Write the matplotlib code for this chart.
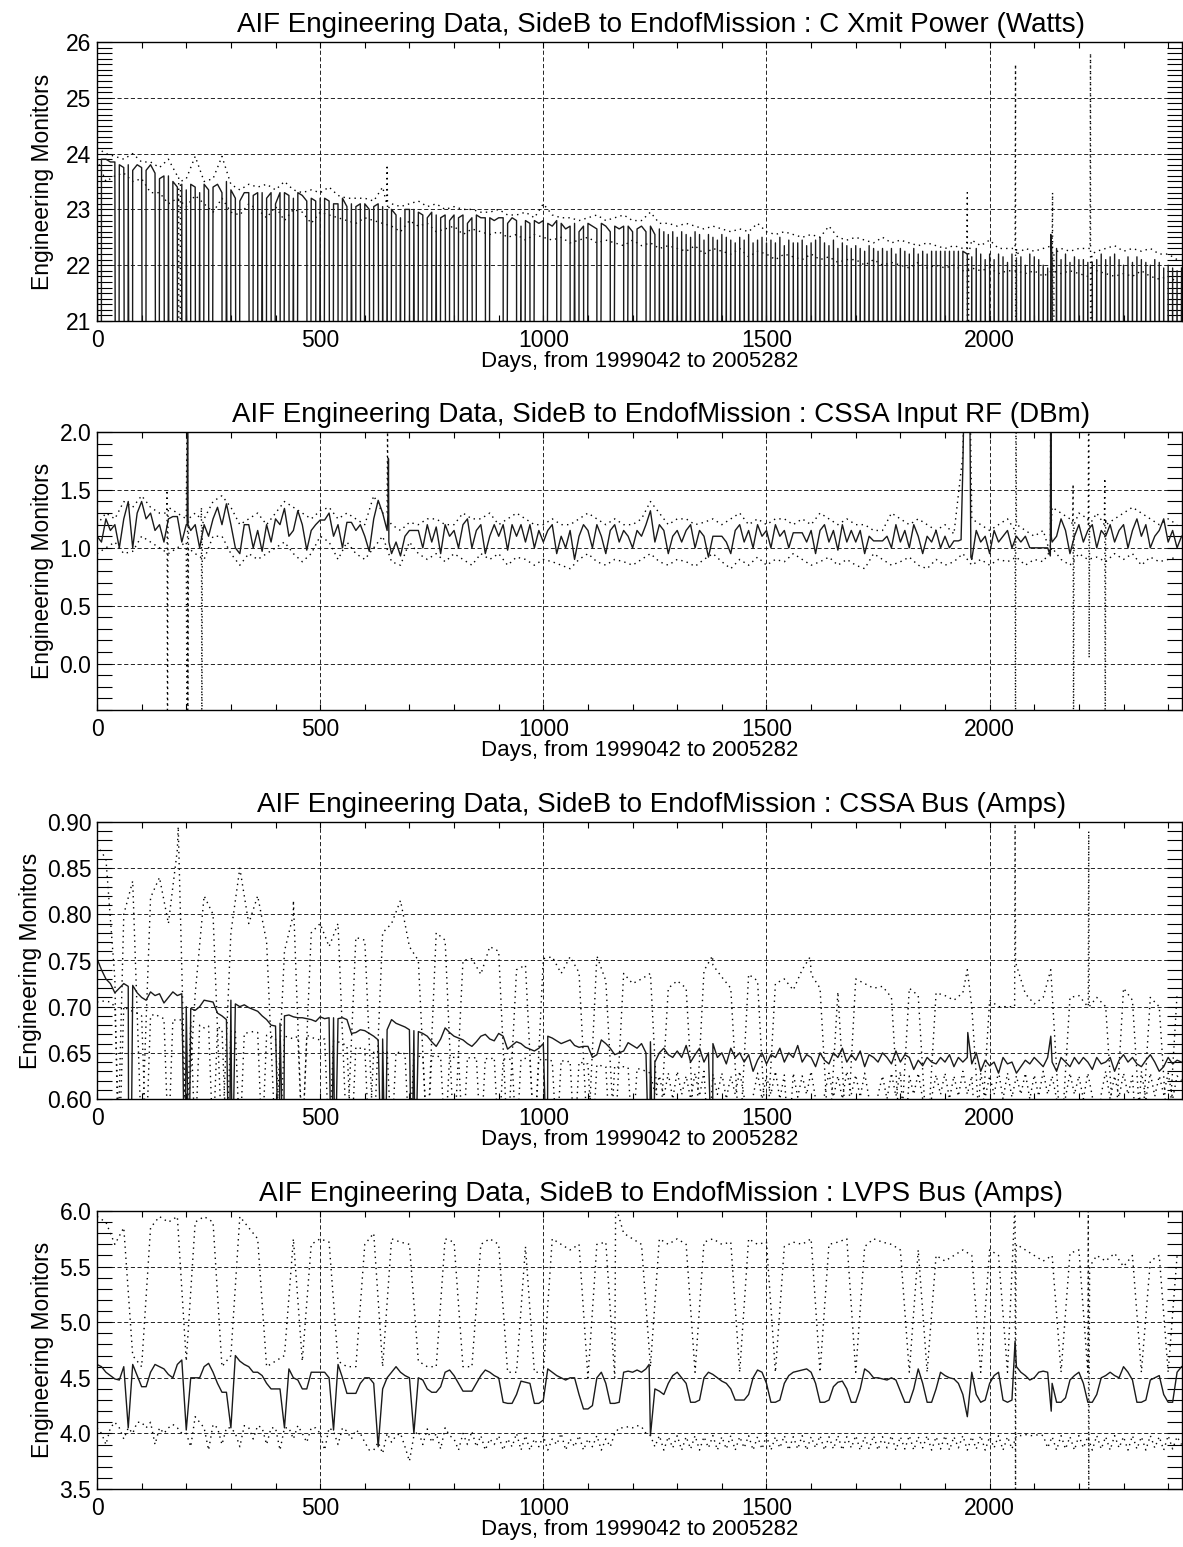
import numpy as np
import matplotlib
matplotlib.use("Agg")
import matplotlib.pyplot as plt
from matplotlib.ticker import MultipleLocator, FormatStrFormatter

plt.rcParams['font.family'] = ['Liberation Sans', 'DejaVu Sans']

TITLE_BASE = "AIF Engineering Data, SideB to EndofMission : "
XLABEL = "Days, from 1999042 to 2005282"
YLABEL = "Engineering Monitors"

# ---------------------------------------------------------------
# Panel 1 : C Xmit Power (Watts)
# mean sampled every 10 days, max/min every 20 days
# ---------------------------------------------------------------
p1_mean = [
    24.05, 23.9, 23.9, 23.85, 23.85, 23.8, 23.75, 23.8, 23.7, 23.8,
    23.75, 23.7, 23.8, 23.65, 23.55, 23.6, 23.6, 23.5, 23.4, 23.45,
    23.35, 23.45, 23.4, 23.3, 23.45, 23.35, 23.4, 23.45, 23.3, 23.5,
    23.35, 23.2, 23.15, 23.3, 23.3, 23.25, 23.3, 23.3, 23.2, 23.3,
    23.1, 23.3, 23.3, 23.25, 23.2, 23.3, 23.25, 23.15, 23.2, 23.15,
    23.2, 23.2, 23.15, 23.1, 23.1, 23.2, 23.05, 23.1, 23.05, 23.1,
    23.1, 23.0, 23.05, 23.1, 23.05, 23.0, 23.0, 22.9, 22.85, 23.0,
    23.0, 23.0, 22.95, 22.9, 22.85, 22.95, 22.9, 22.85, 22.9, 22.8,
    22.9, 22.85, 22.9, 22.75, 22.85, 22.9, 22.85, 22.85, 22.85, 22.8,
    22.85, 22.85, 22.75, 22.85, 22.8, 22.7, 22.8, 22.75, 22.8, 22.75,
    22.8, 22.75, 22.7, 22.8, 22.75, 22.65, 22.7, 22.75, 22.6, 22.7,
    22.75, 22.7, 22.65, 22.75, 22.7, 22.6, 22.7, 22.65, 22.7, 22.7,
    22.6, 22.65, 22.7, 22.6, 22.7, 22.55, 22.65, 22.6, 22.55, 22.6,
    22.5, 22.6, 22.55, 22.5, 22.6, 22.55, 22.45, 22.55, 22.5, 22.45,
    22.55, 22.5, 22.45, 22.4, 22.5, 22.45, 22.55, 22.4, 22.45, 22.5,
    22.4, 22.45, 22.4, 22.5, 22.35, 22.45, 22.4, 22.4, 22.45, 22.35,
    22.4, 22.45, 22.5, 22.4, 22.35, 22.45, 22.3, 22.4, 22.35, 22.3,
    22.35, 22.3, 22.25, 22.35, 22.3, 22.25, 22.3, 22.25, 22.3, 22.2,
    22.3, 22.25, 22.2, 22.3, 22.2, 22.25, 22.2, 22.25, 22.25, 22.25,
    22.25, 22.25, 22.25, 22.25, 22.25, 22.2, 22.15, 22.3, 22.2, 22.1,
    22.2, 22.1, 22.2, 22.15, 22.05, 22.2, 22.1, 22.15, 22.0, 22.2,
    22.15, 22.1, 22.0, 21.95, 22.1, 22.3, 22.1, 22.2, 22.05, 22.15,
    22.1, 22.1, 22.05, 22.05, 22.1, 22.2, 22.1, 22.15, 22.2, 22.1,
    22.0, 22.15, 22.05, 22.15, 22.1, 22.05, 22.0, 22.1, 22.05, 21.95,
    22.0, 21.95, 21.9, 21.95,
]
# days where the telemetry drops out (value goes to zero)
p1_dropout_days = [
    9, 46, 67, 78, 108, 137, 156, 167, 181, 184, 187, 192, 194, 196, 209,
    224, 233, 253, 281, 285, 298, 317, 347, 362, 377, 392, 414, 433, 444,
    474, 492, 504, 526, 541, 564, 579, 594, 616, 638, 646, 653, 672, 683,
    702, 717, 732, 750, 765, 788, 806, 825, 848, 874, 911, 941, 952, 971,
    1001, 1031, 1061, 1079, 1094, 1120, 1150, 1180, 1202, 1232, 1251,
    1257, 1266, 1276, 1284, 1293, 1303, 1312, 1321, 1331, 1339, 1348, 1357,
    1367, 1375, 1384, 1394, 1403, 1412, 1421, 1430, 1439, 1448, 1457, 1467,
    1476, 1485, 1494, 1503, 1513, 1521, 1531, 1541, 1549, 1558, 1567, 1577,
    1586, 1595, 1603, 1613, 1622, 1631, 1640, 1649, 1659, 1667, 1676, 1686,
    1695, 1704, 1713, 1722, 1731, 1741, 1749, 1758, 1767, 1777, 1786, 1795,
    1803, 1813, 1822, 1831, 1840, 1849, 1858, 1867, 1876, 1886, 1895, 1904,
    1913, 1922, 1931, 1953, 1962, 1971, 1981, 1989, 1998, 2007, 2016, 2025,
    2034, 2043, 2052, 2063, 2071, 2081, 2089, 2098, 2107, 2116, 2125, 2134,
    2143, 2152, 2161, 2171, 2179, 2188, 2197, 2206, 2215, 2225, 2233, 2243,
    2251, 2261, 2269, 2278, 2287, 2297, 2305, 2315, 2323, 2333, 2341, 2351,
    2359, 2369, 2377, 2387, 2395, 2405, 2413, 2422,
]
p1_spike_days = [2137]
p1_spike_vals = [22.55]

p1_max = [
    24.1, 24.0, 23.95, 23.9, 24.0, 23.85, 23.85, 23.75, 23.9, 23.6,
    23.55, 23.95, 23.5, 23.55, 23.95, 23.45, 23.35, 23.45, 23.4, 23.45,
    23.35, 23.5, 23.35, 23.3, 23.35, 23.3, 23.4, 23.25, 23.2, 23.2,
    23.2, 23.15, 23.4, 23.1, 23.05, 23.1, 23.15, 23.05, 23.1, 23.0,
    23.05, 23.0, 23.0, 22.95, 22.95, 23.0, 22.9, 22.9, 22.95, 22.85,
    23.1, 22.9, 22.85, 22.85, 22.8, 22.85, 22.9, 22.8, 22.85, 22.9,
    22.8, 22.8, 22.95, 22.75, 22.75, 22.7, 22.75, 22.7, 22.65, 22.7,
    22.65, 22.6, 22.65, 22.6, 22.75, 22.6, 22.55, 22.6, 22.55, 22.5,
    22.55, 22.5, 22.7, 22.5, 22.45, 22.5, 22.45, 22.4, 22.5, 22.4,
    22.45, 22.4, 22.35, 22.4, 22.35, 22.3, 22.35, 22.3, 22.45, 22.35,
    22.45, 22.3, 22.3, 22.3, 22.3, 22.25, 22.3, 22.35, 22.3, 22.25,
    22.3, 22.3, 22.25, 22.3, 22.35, 22.25, 22.3, 22.25, 22.3, 22.2,
    22.2, 22.1,
]
p1_max_extra_days = [183, 185, 187, 649, 650, 651, 1949, 1950, 1951, 1953,
                     2057, 2058, 2059, 2061, 2140, 2141, 2142, 2144,
                     2225, 2226, 2227, 2229]
p1_max_extra_vals = [23.6, 0.0, 23.5, 23.1, 23.8, 23.0, 22.3, 23.3, 0.0, 22.2,
                     22.3, 25.6, 0.0, 22.2, 22.3, 23.3, 0.0, 22.2,
                     22.3, 25.8, 0.0, 22.2]
p1_min = [
    23.9, 23.5, 23.6, 23.65, 23.5, 23.55, 23.3, 23.3, 23.1, 23.2,
    23.05, 23.25, 23.1, 22.95, 23.2, 22.95, 22.9, 23.1, 23.0, 22.85,
    23.05, 22.8, 23.0, 22.95, 22.75, 22.95, 22.9, 22.85, 22.8, 22.75,
    22.85, 22.8, 22.75, 22.7, 22.6, 22.8, 22.7, 22.75, 22.6, 22.65,
    22.7, 22.55, 22.65, 22.6, 22.55, 22.6, 22.5, 22.55, 22.45, 22.55,
    22.5, 22.45, 22.5, 22.4, 22.45, 22.5, 22.4, 22.45, 22.4, 22.35,
    22.45, 22.35, 22.4, 22.3, 22.35, 22.3, 22.25, 22.35, 22.2, 22.3,
    22.25, 22.2, 22.3, 22.15, 22.25, 22.2, 22.1, 22.2, 22.15, 22.1,
    22.2, 22.1, 22.15, 22.05, 22.1, 22.1, 22.0, 22.1, 22.0, 22.05,
    22.0, 21.95, 22.05, 21.95, 22.0, 21.95, 22.0, 21.9, 21.95, 21.9,
    21.95, 21.85, 21.9, 21.9, 21.85, 21.9, 21.8, 21.9, 21.85, 21.9,
    21.85, 21.8, 21.9, 21.85, 21.8, 21.85, 21.8, 21.9, 21.8, 21.75,
    21.8, 21.7,
]

# ---------------------------------------------------------------
# Panel 2 : CSSA Input RF (DBm)
# ---------------------------------------------------------------
p2_mean = [
    1.1, 1.05, 1.25, 1.15, 1.2, 1.0, 1.25, 1.4, 1.0, 1.3,
    1.4, 1.25, 1.3, 1.15, 1.2, 1.05, 1.25, 1.27, 1.27, 1.05,
    1.2, 1.15, 1.2, 1.0, 1.2, 1.1, 1.25, 1.35, 1.2, 1.38,
    1.2, 1.0, 0.95, 1.2, 1.2, 1.0, 1.15, 0.97, 1.2, 1.05,
    1.25, 1.2, 1.34, 1.1, 1.15, 1.32, 1.2, 0.98, 1.15, 1.2,
    1.24, 1.24, 1.3, 1.1, 1.2, 1.0, 1.22, 1.22, 1.15, 1.2,
    1.1, 0.97, 1.25, 1.41, 1.3, 1.15, 0.95, 1.05, 0.93, 1.1,
    1.15, 1.15, 1.15, 1.0, 1.2, 1.05, 1.18, 0.95, 1.2, 1.1,
    1.15, 1.0, 1.2, 1.25, 1.0, 1.15, 1.2, 0.95, 1.1, 1.2,
    1.1, 1.2, 0.98, 1.2, 1.1, 1.2, 1.05, 1.2, 1.0, 1.15,
    1.05, 1.15, 1.2, 0.95, 1.1, 1.0, 1.15, 0.9, 1.1, 1.2,
    1.15, 1.0, 1.2, 1.1, 0.95, 1.15, 1.2, 1.05, 1.15, 1.1,
    1.0, 1.15, 1.1, 1.2, 1.32, 1.05, 1.2, 1.15, 0.95, 1.1,
    1.15, 1.05, 1.15, 1.2, 1.0, 1.15, 1.1, 0.92, 1.1, 1.1,
    1.1, 1.05, 0.95, 1.15, 1.2, 1.05, 1.15, 1.0, 1.2, 1.1,
    1.15, 1.0, 1.2, 1.1, 1.15, 1.0, 1.13, 1.13, 1.13, 1.05,
    1.15, 0.95, 1.15, 1.2, 1.05, 1.15, 0.98, 1.2, 1.05, 1.15,
    1.05, 1.15, 0.95, 1.1, 1.06, 1.06, 1.06, 1.1, 1.0, 1.2,
    1.05, 1.15, 1.0, 1.2, 1.1, 0.95, 1.1, 1.05, 1.15, 1.0,
    1.1, 1.0, 1.06, 1.06, 1.7, 2.6, 0.9, 1.15, 1.05, 1.1,
    0.95, 1.15, 1.05, 1.1, 1.15, 1.0, 1.1, 1.05, 1.1, 1.0,
    1.0, 1.0, 1.0, 1.0, 1.05, 1.1, 1.25, 1.15, 0.95, 1.1,
    1.2, 1.05, 1.15, 1.2, 1.0, 1.15, 1.1, 1.2, 1.05, 1.15,
    1.2, 1.0, 1.15, 1.25, 1.1, 1.2, 1.0, 1.1, 1.15, 1.25,
    1.05, 1.15, 1.0, 1.1,
]
p2_mean_extra_days = [202, 203, 204, 652, 653, 654, 1936, 1944, 1955, 1958,
                      2136, 2137, 2138]
p2_mean_extra_vals = [1.2, 2.6, 1.2, 1.3, 1.77, 1.05, 1.07, 2.6, 2.6, 0.92,
                      0.93, 2.6, 1.1]
p2_max = [
    1.2, 1.3, 1.25, 1.4, 1.35, 1.45, 1.35, 1.3, 1.35, 1.3,
    1.25, 1.3, 1.25, 1.4, 1.45, 1.35, 1.2, 1.25, 1.3, 1.2,
    1.3, 1.4, 1.35, 1.3, 1.25, 1.32, 1.35, 1.25, 1.3, 1.25,
    1.2, 1.45, 1.3, 1.2, 1.15, 1.22, 1.2, 1.25, 1.25, 1.2,
    1.2, 1.3, 1.25, 1.25, 1.3, 1.2, 1.25, 1.3, 1.25, 1.2,
    1.2, 1.25, 1.2, 1.2, 1.25, 1.3, 1.25, 1.2, 1.25, 1.2,
    1.2, 1.25, 1.4, 1.3, 1.2, 1.25, 1.25, 1.2, 1.22, 1.25,
    1.2, 1.25, 1.3, 1.2, 1.25, 1.2, 1.25, 1.25, 1.2, 1.25,
    1.2, 1.3, 1.25, 1.2, 1.25, 1.2, 1.2, 1.15, 1.15, 1.3,
    1.25, 1.2, 1.25, 1.2, 1.15, 1.2, 1.12, 1.8, 1.25, 1.2,
    1.15, 1.2, 1.25, 1.2, 1.15, 1.1, 1.15, 1.35, 1.3, 1.25,
    1.3, 1.25, 1.3, 1.25, 1.25, 1.3, 1.35, 1.3, 1.25, 1.2,
    1.25, 1.2,
]
p2_max_extra_days = [156, 157, 158, 159, 202.5, 203.5, 205, 233, 234, 235, 236,
                     650, 651, 652, 1944, 1955, 2057, 2058, 2059, 2061,
                     2136, 2137, 2138, 2186, 2187, 2188, 2189,
                     2221, 2222, 2223, 2224, 2257, 2258, 2259, 2261]
p2_max_extra_vals = [1.3, 1.5, -1.0, 1.25, 2.6, -1.0, 1.25, 1.25, 1.35, -1.0, 1.2,
                     1.3, 2.0, 1.25, 2.6, 2.6, 1.15, -1.0, 2.6, 1.2,
                     0.95, 2.6, 1.2, 1.2, 1.55, -1.0, 1.2,
                     1.2, 2.6, 0.05, 1.2, 1.2, 1.6, -1.0, 1.2]
p2_min = [
    0.95, 1.0, 1.05, 0.95, 0.97, 1.1, 1.05, 1.0, 0.95, 1.0,
    1.05, 0.95, 0.9, 1.1, 1.1, 0.95, 0.85, 0.95, 0.9, 0.95,
    1.0, 1.05, 0.95, 0.88, 0.95, 1.1, 1.05, 0.9, 1.05, 0.95,
    0.9, 1.0, 1.1, 0.88, 0.85, 1.05, 0.95, 0.9, 0.95, 0.88,
    0.95, 0.9, 0.85, 0.95, 0.9, 0.95, 0.85, 0.92, 0.9, 0.85,
    0.9, 0.88, 0.85, 0.82, 0.9, 0.95, 0.88, 0.85, 0.9, 0.88,
    0.85, 0.9, 0.95, 0.88, 0.85, 0.9, 0.88, 0.84, 0.9, 0.95,
    0.88, 0.82, 0.9, 0.85, 0.92, 0.85, 0.9, 0.88, 0.95, 0.9,
    0.85, 0.88, 0.92, 0.85, 0.9, 0.85, 0.82, 0.95, 0.9, 0.85,
    0.88, 0.92, 0.85, 0.82, 0.9, 0.85, 0.88, 0.95, 0.85, 0.9,
    0.85, 0.9, 0.88, 0.92, 0.85, 0.9, 0.88, 1.0, 0.9, 0.85,
    0.95, 0.9, 0.92, 0.88, 0.95, 0.9, 0.95, 0.85, 0.92, 0.88,
    0.9, 0.92,
]
p2_min_extra_days = [202, 204]
p2_min_extra_vals = [-1.0, 1.0]

# ---------------------------------------------------------------
# Panel 3 : CSSA Bus (Amps)
# ---------------------------------------------------------------
p3_mean = [
    0.752, 0.74, 0.73, 0.725, 0.715, 0.72, 0.725, 0.722, 0.723, 0.715,
    0.71, 0.707, 0.716, 0.712, 0.714, 0.704, 0.71, 0.716, 0.712, 0.714,
    0.70, 0.698, 0.696, 0.70, 0.707, 0.706, 0.705, 0.693, 0.69, 0.686,
    0.707, 0.703, 0.70, 0.702, 0.699, 0.697, 0.695, 0.69, 0.686, 0.68,
    0.679, 0.682, 0.69, 0.691, 0.689, 0.688, 0.688, 0.687, 0.686, 0.684,
    0.689, 0.687, 0.688, 0.688, 0.687, 0.688, 0.686, 0.671, 0.672, 0.675,
    0.674, 0.671, 0.668, 0.664, 0.665, 0.675, 0.686, 0.682, 0.68, 0.678,
    0.675, 0.674, 0.673, 0.671, 0.668, 0.662, 0.657, 0.665, 0.677, 0.672,
    0.668, 0.666, 0.664, 0.66, 0.657, 0.662, 0.668, 0.67, 0.665, 0.663,
    0.671, 0.668, 0.654, 0.658, 0.662, 0.66, 0.656, 0.654, 0.652, 0.655,
    0.66, 0.668, 0.666, 0.663, 0.66, 0.662, 0.664, 0.658, 0.656, 0.657,
    0.657, 0.645, 0.648, 0.664, 0.66, 0.655, 0.648, 0.65, 0.652, 0.661,
    0.658, 0.655, 0.66, 0.65, 0.662, 0.64, 0.65, 0.655, 0.648, 0.645,
    0.652, 0.645, 0.658, 0.64, 0.648, 0.655, 0.64, 0.65, 0.66, 0.645,
    0.65, 0.638, 0.655, 0.645, 0.65, 0.64, 0.648, 0.63, 0.642, 0.65,
    0.638, 0.648, 0.645, 0.655, 0.64, 0.65, 0.645, 0.658, 0.64, 0.648,
    0.645, 0.635, 0.65, 0.642, 0.638, 0.65, 0.645, 0.655, 0.64, 0.648,
    0.642, 0.652, 0.635, 0.648, 0.645, 0.64, 0.65, 0.645, 0.638, 0.652,
    0.64, 0.648, 0.645, 0.632, 0.642, 0.636, 0.645, 0.64, 0.638, 0.645,
    0.64, 0.648, 0.635, 0.645, 0.64, 0.645, 0.638, 0.65, 0.63, 0.642,
    0.636, 0.64, 0.628, 0.645, 0.638, 0.64, 0.628, 0.635, 0.642, 0.638,
    0.645, 0.64, 0.635, 0.645, 0.64, 0.63, 0.645, 0.64, 0.635, 0.645,
    0.638, 0.645, 0.64, 0.632, 0.645, 0.638, 0.64, 0.645, 0.63, 0.642,
    0.648, 0.64, 0.645, 0.638, 0.635, 0.642, 0.648, 0.64, 0.63, 0.635,
    0.645, 0.638, 0.642, 0.64,
]
p3_mean_extra_days = [71, 76, 197, 206, 296, 303, 408, 418, 525, 533, 638, 646,
                      705, 713, 1009, 1238, 1246, 1379, 1951, 2137]
p3_mean_extra_vals = [0.5, 0.5, 0.5, 0.5, 0.5, 0.5, 0.5, 0.5, 0.5, 0.5, 0.5, 0.5,
                      0.5, 0.5, 0.5, 0.5, 0.5, 0.5, 0.672, 0.668]
p3_max = [
    0.875, 0.86, 0.73, 0.80, 0.836, 0.55, 0.818, 0.84, 0.79, 0.87,
    0.55, 0.714, 0.82, 0.80, 0.55, 0.78, 0.85, 0.79, 0.82, 0.77,
    0.55, 0.76, 0.80, 0.55, 0.78, 0.79, 0.765, 0.79, 0.55, 0.775,
    0.772, 0.55, 0.78, 0.79, 0.815, 0.765, 0.75, 0.55, 0.78, 0.772,
    0.55, 0.75, 0.752, 0.735, 0.765, 0.76, 0.55, 0.74, 0.745, 0.55,
    0.752, 0.754, 0.736, 0.754, 0.737, 0.55, 0.755, 0.728, 0.55, 0.736,
    0.725, 0.73, 0.736, 0.55, 0.72, 0.728, 0.72, 0.55, 0.739, 0.745,
    0.732, 0.72, 0.55, 0.735, 0.728, 0.55, 0.725, 0.73, 0.718, 0.74,
    0.735, 0.72, 0.55, 0.716, 0.55, 0.73, 0.725, 0.72, 0.722, 0.71,
    0.55, 0.72, 0.712, 0.55, 0.715, 0.712, 0.707, 0.715, 0.70, 0.55,
    0.707, 0.70, 0.70, 0.745, 0.714, 0.703, 0.71, 0.715, 0.55, 0.71,
    0.712, 0.70, 0.71, 0.70, 0.55, 0.72, 0.707, 0.55, 0.71, 0.70,
    0.55, 0.714,
]
p3_max_extra_days = [47, 182, 440, 1379, 1598, 1950, 2056, 2057, 2058, 2137,
                     2221, 2222, 2223]
p3_max_extra_vals = [0.55, 0.895, 0.815, 0.755, 0.754, 0.74, 0.70, 0.91, 0.75, 0.74,
                     0.70, 0.89, 0.70]
p3_min = [
    0.705, 0.706, 0.706, 0.705, 0.70, 0.55, 0.70, 0.697, 0.695, 0.693,
    0.69, 0.55, 0.69, 0.692, 0.689, 0.687, 0.55, 0.686, 0.685, 0.686,
    0.55, 0.684, 0.55, 0.68, 0.677, 0.679, 0.55, 0.678, 0.676, 0.55,
    0.674, 0.673, 0.55, 0.671, 0.672, 0.673, 0.672, 0.55, 0.669, 0.668,
    0.666, 0.55, 0.668, 0.667, 0.665, 0.668, 0.55, 0.669, 0.667, 0.665,
    0.664, 0.665, 0.55, 0.663, 0.662, 0.66, 0.658, 0.55, 0.656, 0.655,
    0.655, 0.55, 0.652, 0.651, 0.65, 0.652, 0.55, 0.651, 0.65, 0.649,
    0.55, 0.648, 0.646, 0.647, 0.55, 0.646, 0.647, 0.645, 0.55, 0.646,
    0.645, 0.646, 0.55, 0.645, 0.644, 0.645, 0.55, 0.644, 0.643, 0.645,
    0.55, 0.643, 0.644, 0.642, 0.55, 0.643, 0.644, 0.642, 0.55, 0.643,
    0.642, 0.643, 0.641, 0.55, 0.642, 0.64, 0.641, 0.55, 0.64, 0.639,
    0.638, 0.55, 0.637, 0.636, 0.635, 0.55, 0.636, 0.634, 0.635, 0.634,
    0.55, 0.633, 0.632, 0.63, 0.628, 0.605, 0.625, 0.602, 0.628, 0.60,
    0.63, 0.605, 0.625, 0.60, 0.628, 0.603, 0.63, 0.55, 0.627, 0.605,
    0.628, 0.60, 0.625, 0.605, 0.63, 0.602, 0.55, 0.603, 0.628, 0.60,
    0.625, 0.605, 0.63, 0.60, 0.626, 0.55, 0.628, 0.602, 0.625, 0.605,
    0.63, 0.60, 0.55, 0.605, 0.628, 0.602, 0.625, 0.60, 0.63, 0.605,
    0.626, 0.602, 0.628, 0.60, 0.55, 0.605, 0.625, 0.60, 0.628, 0.603,
    0.63, 0.55, 0.625, 0.605, 0.628, 0.60, 0.55, 0.602, 0.626, 0.605,
    0.628, 0.60, 0.625, 0.603, 0.63, 0.605, 0.625, 0.55, 0.628, 0.602,
    0.625, 0.605, 0.63, 0.60, 0.628, 0.602, 0.625, 0.605, 0.628, 0.60,
    0.626, 0.603, 0.63, 0.605, 0.625, 0.60, 0.55, 0.602, 0.628, 0.605,
    0.625, 0.60, 0.628, 0.603, 0.55, 0.605, 0.63, 0.60, 0.625, 0.602,
    0.628, 0.605, 0.625, 0.55, 0.63, 0.60, 0.628, 0.603, 0.625, 0.605,
    0.628, 0.60, 0.625, 0.62,
]

# ---------------------------------------------------------------
# Panel 4 : LVPS Bus (Amps)
# ---------------------------------------------------------------
p4_mean = [
    4.62, 4.6, 4.55, 4.52, 4.49, 4.48, 4.6, 4.05, 4.62, 4.52,
    4.42, 4.42, 4.55, 4.62, 4.6, 4.58, 4.53, 4.5, 4.62, 4.66,
    4.03, 4.5, 4.5, 4.5, 4.6, 4.63, 4.55, 4.45, 4.37, 4.37,
    4.05, 4.7, 4.65, 4.62, 4.6, 4.55, 4.55, 4.52, 4.45, 4.4,
    4.4, 4.4, 4.05, 4.58, 4.5, 4.48, 4.4, 4.4, 4.55, 4.55,
    4.55, 4.55, 4.5, 4.03, 4.62, 4.5, 4.36, 4.36, 4.36, 4.45,
    4.5, 4.5, 4.45, 3.88, 4.4, 4.5, 4.55, 4.6, 4.55, 4.52,
    4.5, 4.0, 4.5, 4.48, 4.4, 4.37, 4.37, 4.42, 4.55, 4.57,
    4.52, 4.45, 4.38, 4.38, 4.38, 4.45, 4.52, 4.57, 4.55, 4.52,
    4.5, 4.28, 4.27, 4.27, 4.35, 4.47, 4.46, 4.45, 4.27, 4.27,
    4.3, 4.58, 4.55, 4.52, 4.5, 4.48, 4.5, 4.5, 4.35, 4.22,
    4.22, 4.25, 4.5, 4.55, 4.45, 4.27, 4.27, 4.28, 4.55, 4.56,
    4.55, 4.57, 4.55, 4.58, 3.98, 4.4, 4.38, 4.35, 4.45, 4.52,
    4.55, 4.5, 4.45, 4.28, 4.28, 4.3, 4.5, 4.55, 4.53, 4.5,
    4.47, 4.45, 4.4, 4.3, 4.3, 4.3, 4.35, 4.5, 4.57, 4.55,
    4.45, 4.28, 4.28, 4.3, 4.45, 4.52, 4.55, 4.56, 4.57, 4.58,
    4.55, 4.45, 4.28, 4.28, 4.3, 4.42, 4.46, 4.47, 4.4, 4.28,
    4.28, 4.4, 4.58, 4.55, 4.5, 4.5, 4.49, 4.48, 4.5, 4.48,
    4.38, 4.28, 4.28, 4.4, 4.58, 4.45, 4.28, 4.28, 4.4, 4.55,
    4.52, 4.5, 4.49, 4.45, 4.35, 4.15, 4.55, 4.35, 4.28, 4.3,
    4.45, 4.52, 4.55, 4.3, 4.28, 4.3, 4.6, 4.55, 4.52, 4.48,
    4.5, 4.55, 4.56, 4.55, 4.45, 4.28, 4.28, 4.32, 4.48, 4.52,
    4.55, 4.45, 4.28, 4.28, 4.35, 4.5, 4.52, 4.55, 4.52, 4.5,
    4.6, 4.55, 4.48, 4.28, 4.28, 4.3, 4.48, 4.5, 4.52, 4.35,
    4.28, 4.28, 4.55, 4.6,
]
p4_mean_extra_days = [1237, 2057, 2138]
p4_mean_extra_vals = [4.62, 4.83, 4.2]
p4_max = [
    5.95, 5.9, 5.7, 5.85, 4.7, 4.6, 5.85, 5.95, 5.9, 5.95,
    4.65, 5.9, 5.95, 5.9, 4.6, 4.7, 5.95, 5.85, 5.75, 4.6,
    4.65, 4.7, 5.75, 4.65, 5.7, 5.75, 5.72, 4.65, 4.6, 4.6,
    5.7, 5.8, 4.6, 5.75, 5.72, 5.7, 4.65, 4.6, 4.6, 5.75,
    5.72, 4.6, 4.6, 5.7, 5.75, 5.7, 4.55, 4.55, 5.68, 4.55,
    4.55, 5.75, 5.7, 5.65, 5.7, 4.5, 5.7, 5.72, 4.5, 5.8,
    5.75, 5.7, 4.6, 5.75, 5.7, 5.75, 5.7, 4.55, 5.72, 5.75,
    5.7, 5.72, 4.55, 5.75, 5.7, 5.72, 4.55, 5.68, 5.72, 5.7,
    5.75, 4.55, 5.7, 5.72, 5.75, 4.55, 5.68, 5.75, 5.72, 5.7,
    5.65, 4.55, 5.65, 4.55, 5.6, 5.55, 5.6, 5.65, 5.6, 4.55,
    5.65, 5.6, 4.55, 5.7, 5.65, 5.6, 5.55, 5.6, 4.55, 5.62,
    5.65, 4.55, 5.6, 5.55, 5.62, 5.5, 5.6, 4.55, 5.55, 5.6,
    4.55, 5.6,
]
p4_max_extra_days = [1162, 2057, 2058, 2059, 2221, 2222, 2224]
p4_max_extra_vals = [6.05, 6.1, 3.4, 5.6, 6.1, 3.4, 5.5]
p4_min = [
    4.05, 4.0, 3.9, 4.05, 4.1, 4.05, 3.95, 4.05, 4.0, 4.1,
    4.1, 4.05, 4.1, 3.9, 4.05, 4.0, 4.05, 4.08, 4.05, 4.0,
    4.0, 3.88, 4.15, 4.1, 4.05, 3.85, 4.08, 4.05, 3.9, 4.05,
    4.05, 4.0, 3.88, 4.07, 4.05, 3.95, 4.07, 4.05, 3.9, 4.05,
    4.05, 3.85, 4.05, 4.05, 3.95, 4.07, 4.0, 3.92, 4.05, 4.05,
    4.0, 3.85, 4.05, 4.02, 3.9, 4.05, 4.02, 3.95, 4.03, 4.0,
    3.92, 3.85, 3.85, 3.92, 3.82, 4.0, 3.92, 3.98, 4.0, 3.88,
    3.75, 3.98, 4.02, 3.9, 4.04, 3.92, 4.0, 3.86, 4.05, 3.98,
    3.95, 3.85, 4.0, 3.9, 4.02, 3.88, 3.98, 3.85, 3.95, 3.9,
    3.98, 3.85, 3.95, 3.88, 4.0, 3.85, 3.98, 3.85, 3.95, 3.88,
    3.98, 3.85, 3.95, 3.9, 4.0, 3.85, 3.95, 3.88, 3.98, 3.85,
    3.95, 3.88, 3.98, 3.85, 3.95, 3.88, 4.0, 4.05, 4.05, 4.06,
    4.05, 4.07, 4.06, 4.0, 3.98, 3.88, 3.98, 3.85, 3.97, 3.87,
    3.98, 3.85, 3.97, 3.86, 3.98, 3.85, 3.97, 3.87, 3.98, 3.85,
    3.97, 3.86, 3.98, 3.85, 3.97, 3.87, 3.98, 3.85, 3.97, 3.86,
    3.98, 3.85, 3.97, 3.87, 3.98, 3.85, 3.97, 3.86, 3.98, 3.85,
    3.97, 3.87, 3.98, 3.85, 3.97, 3.86, 3.98, 3.85, 3.97, 3.87,
    3.98, 3.85, 3.97, 3.86, 3.98, 3.85, 3.97, 3.87, 3.98, 3.85,
    3.97, 3.86, 3.98, 3.85, 3.97, 3.87, 3.98, 3.85, 3.97, 3.86,
    3.98, 3.85, 3.97, 3.87, 3.98, 3.85, 3.97, 3.86, 3.98, 3.85,
    3.97, 3.87, 3.98, 3.85, 3.97, 3.86, 3.98, 3.98, 3.99, 3.98,
    3.98, 3.99, 3.98, 3.87, 3.97, 3.85, 3.98, 3.86, 3.97, 3.85,
    3.98, 3.87, 3.97, 3.85, 3.98, 3.86, 3.97, 3.85, 3.98, 3.87,
    3.97, 3.85, 3.98, 3.86, 3.97, 3.85, 3.98, 3.87, 3.97, 3.85,
    3.98, 3.86, 3.97, 3.9,
]


def series(values, step, extra_days=(), extra_vals=()):
    """Put the regularly sampled values and the extra (day, value) points in day order."""
    days = np.concatenate([np.arange(len(values)) * step, np.asarray(extra_days, float)])
    vals = np.concatenate([np.asarray(values, float), np.asarray(extra_vals, float)])
    order = np.argsort(days, kind='stable')
    return days[order], vals[order]


panels = [
    {
        'name': "C Xmit Power (Watts)",
        'mean': series(p1_mean, 10, p1_dropout_days + p1_spike_days,
                       [0.0] * len(p1_dropout_days) + p1_spike_vals),
        'max': series(p1_max, 20, p1_max_extra_days, p1_max_extra_vals),
        'min': series(p1_min, 20),
        'ylim': (21, 26), 'major': 1, 'minor': 0.1, 'fmt': '%d', 'ylab_x': -0.040,
    },
    {
        'name': "CSSA Input RF (DBm)",
        'mean': series(p2_mean, 10, p2_mean_extra_days, p2_mean_extra_vals),
        'max': series(p2_max, 20, p2_max_extra_days, p2_max_extra_vals),
        'min': series(p2_min, 20, p2_min_extra_days, p2_min_extra_vals),
        'ylim': (-0.4, 2.0), 'major': 0.5, 'minor': 0.1, 'fmt': '%.1f', 'ylab_x': -0.040,
    },
    {
        'name': "CSSA Bus (Amps)",
        'mean': series(p3_mean, 10, p3_mean_extra_days, p3_mean_extra_vals),
        'max': series(p3_max, 20, p3_max_extra_days, p3_max_extra_vals),
        'min': series(p3_min, 10),
        'ylim': (0.6, 0.9), 'major': 0.05, 'minor': 0.01, 'fmt': '%.2f', 'ylab_x': -0.051,
    },
    {
        'name': "LVPS Bus (Amps)",
        'mean': series(p4_mean, 10, p4_mean_extra_days, p4_mean_extra_vals),
        'max': series(p4_max, 20, p4_max_extra_days, p4_max_extra_vals),
        'min': series(p4_min, 10),
        'ylim': (3.5, 6.0), 'major': 0.5, 'minor': 0.1, 'fmt': '%.1f', 'ylab_x': -0.040,
    },
]

W, H = 1183, 1547
fig = plt.figure(figsize=(W / 100, H / 100), dpi=100)

# axes frames in pixels: (top, bottom)
frames = [(42, 321), (432, 710), (822, 1099), (1211, 1489)]
left_px, right_px = 97, 1182

dotted = (0, (1, 3))
for p, (top, bot) in zip(panels, frames):
    ax = fig.add_axes([left_px / W, 1 - bot / H, (right_px - left_px) / W, (bot - top) / H])

    d, v = p['max']
    ax.plot(d, v, color='black', lw=1.0, linestyle=dotted)
    d, v = p['min']
    ax.plot(d, v, color='black', lw=1.0, linestyle=dotted)
    d, v = p['mean']
    ax.plot(d, v, color='#1a1a1a', lw=1.0)

    ax.set_xlim(0, 2431)
    ax.set_ylim(*p['ylim'])
    ax.set_xticks([0, 500, 1000, 1500, 2000])
    ax.xaxis.set_minor_locator(MultipleLocator(100))
    ax.yaxis.set_major_locator(MultipleLocator(p['major']))
    ax.yaxis.set_minor_locator(MultipleLocator(p['minor']))
    ax.yaxis.set_major_formatter(FormatStrFormatter(p['fmt']))

    ax.grid(True, which='major', color='black', linestyle=(0, (5, 3)), linewidth=0.6)
    ax.set_axisbelow(True)

    ax.tick_params(axis='x', which='both', direction='in', top=True, bottom=True,
                   length=4, width=0.8, labelsize=16.5, pad=6)
    ax.tick_params(axis='y', which='both', direction='in', left=True, right=True,
                   length=11, width=0.8, labelsize=16.5, pad=4)
    for s in ax.spines.values():
        s.set_linewidth(1.0)

    # IDL centres the title slightly right of the plot frame
    ax.set_title(TITLE_BASE + p['name'], fontsize=20, pad=7, x=0.52)
    ax.set_xlabel(XLABEL, fontsize=16, labelpad=-1)
    ax.set_ylabel(YLABEL, fontsize=16.5)
    ax.yaxis.set_label_coords(p['ylab_x'], 0.5)

fig.savefig("out.png", dpi=100)
